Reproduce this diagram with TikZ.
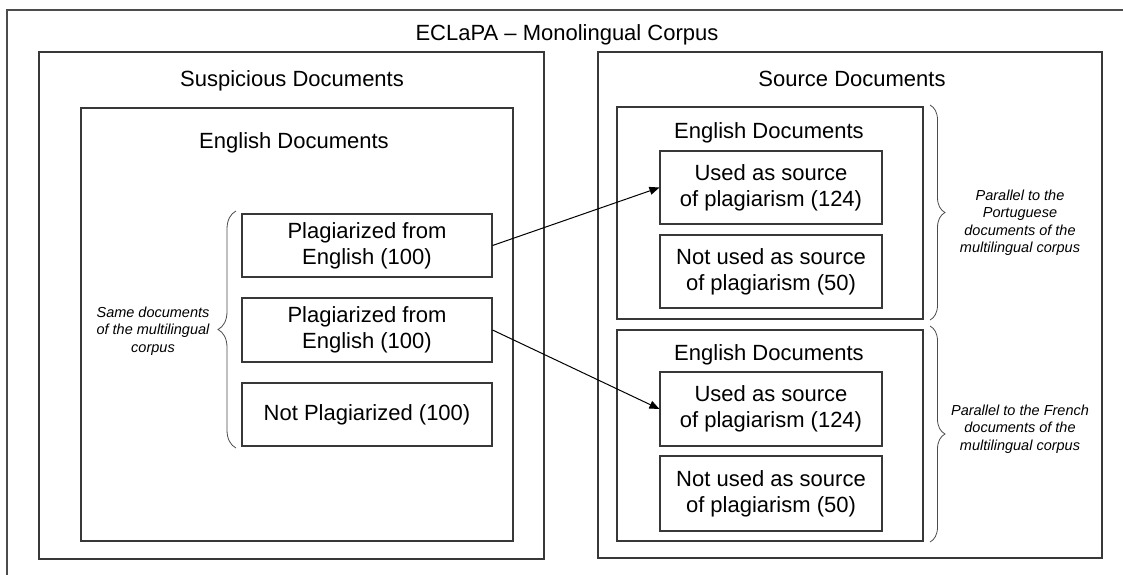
\documentclass[tikz,border=0pt]{standalone}
\usepackage{fontspec}
\setmainfont{Liberation Sans}
\usetikzlibrary{arrows.meta,decorations.pathreplacing}

\tikzset{
  frame/.style={draw=black!78, line width=1.1pt, inner sep=0pt},
  leaf/.style={frame, align=center, font=\fontsize{22}{26}\selectfont},
  heading/.style={anchor=base, inner sep=0pt, font=\fontsize{22}{26}\selectfont},
  remark/.style={align=center, inner sep=0pt, font=\fontsize{14.5}{17.5}\selectfont\itshape},
  curly/.style={draw=black!70, line width=0.8pt, decorate},
  link/.style={draw=black, line width=1pt, -{Triangle[length=10pt,width=8pt]}}
}

\begin{document}
\begin{tikzpicture}[x=1pt, y=-1pt]
  \clip (0,0) rectangle (1123,574);
  \fill[white] (0,0) rectangle (1123,574);

  % outer corpus frame (open to the right and bottom)
  \draw[draw=black!70, line width=1.1pt] (7,600) -- (7,10) -- (1140,10);
  \node[heading] (corpus) at (567,40) {ECLaPA -- Monolingual Corpus};

  % suspicious side
  \node[frame, minimum width=505pt, minimum height=507pt] (susp) at (291.5,305.5) {};
  \node[heading] (suspT) at (292,86) {Suspicious Documents};
  \node[frame, minimum width=432pt, minimum height=433pt] (engS) at (297,324.5) {};
  \node[heading] (engST) at (294,148) {English Documents};

  \node[leaf, minimum width=250pt, minimum height=63pt] (plagA) at (367,245.5) {Plagiarized from\\English (100)};
  \node[leaf, minimum width=250pt, minimum height=64pt] (plagB) at (367,330) {Plagiarized from\\English (100)};
  \node[leaf, minimum width=250pt, minimum height=63pt] (noplag) at (367,414.5) {Not Plagiarized (100)};

  \coordinate (bl1) at (236,448);
  \coordinate (bl2) at (236,211);
  \draw[curly, decoration={brace, amplitude=18pt}] (bl1) -- (bl2);
  \node[remark] (same) at (153,331) {Same documents\\of the multilingual\\corpus};

  % source side
  \node[frame, minimum width=504pt, minimum height=506pt] (src) at (850,305) {};
  \node[heading] (srcT) at (852,86) {Source Documents};

  \node[frame, minimum width=306pt, minimum height=212pt] (engA) at (770,213) {};
  \node[heading] (engAT) at (769,138) {English Documents};
  \node[leaf, minimum width=222pt, minimum height=73pt] (usedA) at (771,187.5) {Used as source\\of plagiarism (124)};
  \node[leaf, minimum width=222pt, minimum height=73pt] (notA) at (771,271.5) {Not used as source\\of plagiarism (50)};

  \node[frame, minimum width=306pt, minimum height=211pt] (engB) at (770,435.5) {};
  \node[heading] (engBT) at (769,360) {English Documents};
  \node[leaf, minimum width=222pt, minimum height=74pt] (usedB) at (771,409) {Used as source\\of plagiarism (124)};
  \node[leaf, minimum width=222pt, minimum height=75pt] (notB) at (771,493.5) {Not used as source\\of plagiarism (50)};

  \coordinate (ra1) at (930,105);
  \coordinate (ra2) at (930,320);
  \coordinate (rb1) at (930,326);
  \coordinate (rb2) at (930,542);
  \draw[curly, decoration={brace, amplitude=15pt}] (ra1) -- (ra2);
  \draw[curly, decoration={brace, amplitude=15pt}] (rb1) -- (rb2);
  \node[remark] (portu) at (1020,222.5) {Parallel to the\\Portuguese\\documents of the\\multilingual corpus};
  \node[remark] (french) at (1020,429) {Parallel to the French\\documents of the\\multilingual corpus};

  % plagiarism links
  \draw[link] (plagA.east) -- (usedA.west);
  \draw[link] (plagB.east) -- (usedB.west);
\end{tikzpicture}
\end{document}
